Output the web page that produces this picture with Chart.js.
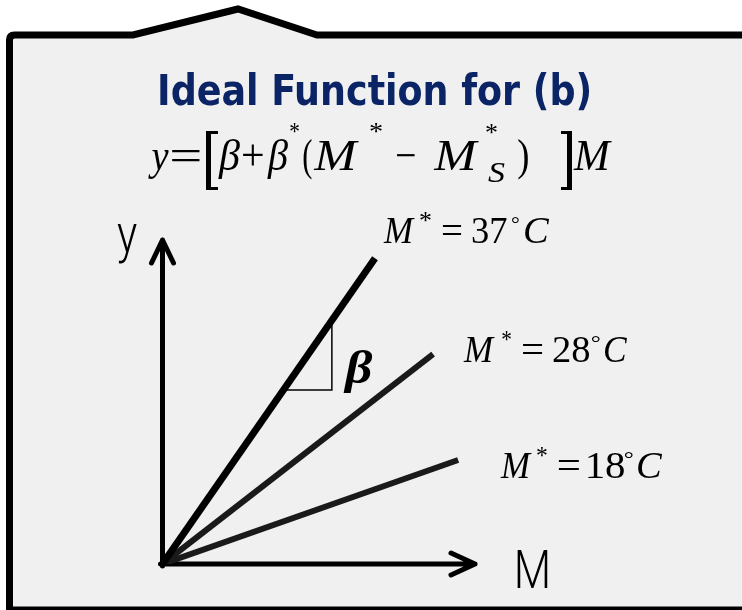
<!DOCTYPE html>
<html lang="en">
<head>
<meta charset="UTF-8">
<title>Ideal Function for (b)</title>
<script src="https://cdn.jsdelivr.net/npm/chart.js"></script>
<style>
  html, body { margin: 0; padding: 0; background: #fff; }
  canvas { display: block; }
</style>
</head>
<body>
<canvas id="chart" width="742" height="610"></canvas>
<script>
// temperature levels M* (deg C) and where each line ends, in M / y units
const tempLabels = ['37', '28', '18'];
const endM = [6.8, 8.66, 9.46];
const endY = [9.44, 6.48, 3.21];
const lineColors = ['#000000', '#1a1a1a', '#1a1a1a'];
const lineWidths = [7, 6, 6];

// little slope triangle under the steepest line
const slopeM = [3.87, 5.42, 5.42];
const slopeY = [5.37, 5.37, 7.52];

const axisMax = 10;

const SERIF = '"Liberation Serif", "Times New Roman", serif';
const NARROW = '"Liberation Sans Narrow", "Arial Narrow", "DejaVu Sans Condensed", sans-serif';
const LIGHT = 'Roboto, "Liberation Sans", sans-serif';

// draw text so its ink spans x1..x2; baseline given, or ink top if top is set
function ink(ctx, text, font, x1, x2, base, top) {
    ctx.font = font;
    const m = ctx.measureText(text);
    const w = m.actualBoundingBoxLeft + m.actualBoundingBoxRight;
    const s = (x2 - x1) / w;
    const y = top !== undefined ? top + m.actualBoundingBoxAscent : base;
    ctx.save();
    ctx.translate(x1 + m.actualBoundingBoxLeft * s, y);
    ctx.scale(s, 1);
    ctx.fillText(text, 0, 0);
    ctx.restore();
}

// frame with the notch on top
const framePlugin = {
    id: 'frame',
    beforeDraw(chart) {
        const ctx = chart.ctx;
        ctx.save();
        ctx.fillStyle = '#ffffff';
        ctx.fillRect(0, 0, chart.width, chart.height);
        ctx.beginPath();
        ctx.moveTo(9.5, 615);
        ctx.lineTo(9.5, 40);
        ctx.quadraticCurveTo(9.5, 35, 14.5, 35);
        ctx.lineTo(133, 35);
        ctx.lineTo(238, 9);
        ctx.lineTo(317, 35);
        ctx.lineTo(760, 35);
        ctx.lineTo(760, 610);
        ctx.lineTo(9.5, 610);
        ctx.closePath();
        ctx.fillStyle = '#f0f0f0';
        ctx.fill();
        ctx.lineWidth = 7;
        ctx.strokeStyle = '#000';
        ctx.stroke();
        ctx.restore();
    }
};

// arrowed axes, title, equation and labels
const annotatePlugin = {
    id: 'annotate',
    beforeDatasetsDraw(chart) {
        const ctx = chart.ctx;
        const xs = chart.scales.x, ys = chart.scales.y;
        const x0 = xs.getPixelForValue(0), y0 = ys.getPixelForValue(0);
        const xEnd = xs.getPixelForValue(axisMax), yEnd = ys.getPixelForValue(axisMax);
        ctx.save();
        ctx.strokeStyle = '#000';
        ctx.lineWidth = 5;
        ctx.lineCap = 'round';
        ctx.lineJoin = 'round';
        ctx.beginPath();
        ctx.moveTo(x0, y0 + 2);
        ctx.lineTo(x0, yEnd);
        ctx.moveTo(x0 - 11, yEnd + 23);
        ctx.lineTo(x0, yEnd);
        ctx.lineTo(x0 + 11, yEnd + 23);
        ctx.moveTo(x0 - 2, y0);
        ctx.lineTo(xEnd, y0);
        ctx.moveTo(xEnd - 24, y0 - 11);
        ctx.lineTo(xEnd, y0);
        ctx.lineTo(xEnd - 24, y0 + 11);
        ctx.stroke();
        ctx.restore();
    },
    afterDraw(chart) {
        const ctx = chart.ctx;
        ctx.save();
        ctx.textAlign = 'left';
        ctx.textBaseline = 'alphabetic';

        // title
        ctx.fillStyle = '#0b2466';
        ink(ctx, 'Ideal Function for (b)', 'bold 42px ' + NARROW, 160, 590, 105);

        // equation  y = [β + β*(M* − M*_S)]M
        ctx.fillStyle = '#000';
        const it = 'italic 44px ' + SERIF, up = '44px ' + SERIF;
        const sup = '26px ' + SERIF;
        const b = 170;
        ink(ctx, 'y', it, 148, 169, b);
        ink(ctx, '=', up, 172, 200, b);
        ink(ctx, '\u03B2', it, 218, 240, b);
        ink(ctx, '+', up, 243, 263, b);
        ink(ctx, '\u03B2', it, 267, 288, b);
        ink(ctx, '*', sup, 290, 299, 0, 123);
        ink(ctx, '(', up, 303, 312, b);
        ink(ctx, 'M', it, 313, 359, b);
        ink(ctx, '*', sup, 370, 382, 0, 123);
        ink(ctx, '\u2212', up, 397, 415, b);
        ink(ctx, 'M', it, 433, 479, b);
        ink(ctx, '*', sup, 486, 497, 0, 124);
        ink(ctx, 'S', 'italic 30px ' + SERIF, 488, 505, 182);
        ink(ctx, ')', up, 518, 528, b);
        ink(ctx, 'M', it, 573, 612, b);
        // tall brackets
        ctx.fillRect(206, 131, 5, 59);
        ctx.fillRect(206, 131, 12, 3);
        ctx.fillRect(206, 187, 12, 3);
        ctx.fillRect(567, 131, 5, 59);
        ctx.fillRect(561, 131, 11, 3);
        ctx.fillRect(561, 187, 11, 3);

        // axis names
        ink(ctx, 'y', '300 51px ' + LIGHT, 117, 137, 0, 224);
        ink(ctx, 'M', '300 53px ' + LIGHT, 517, 548, 588);

        // slope symbol
        ink(ctx, '\u03B2', 'bold italic 46px ' + SERIF, 343, 373, 0, 350);

        // M* = T deg C labels beside each line (ink x extents)
        const bases = [243, 362, 478];
        const spans = [
            [[383, 415], [420, 431], [442, 462], [472, 507], [512, 519], [525, 550]],
            [[463, 495], [502, 511], [522, 543], [553, 590], [592, 600], [605, 628]],
            [[500, 532], [537, 547], [558, 580], [588, 625], [625, 633], [638, 663]]
        ];
        tempLabels.forEach((t, i) => {
            const lb = bases[i], s = spans[i];
            ink(ctx, 'M', 'italic 37px ' + SERIF, s[0][0], s[0][1], lb);
            ink(ctx, '*', '26px ' + SERIF, s[1][0], s[1][1], 0, lb - 31);
            ink(ctx, '=', '37px ' + SERIF, s[2][0], s[2][1], lb);
            ink(ctx, t, '37px ' + SERIF, s[3][0], s[3][1], lb);
            ink(ctx, '\u00B0', '22px ' + SERIF, s[4][0], s[4][1], 0, lb - 26);
            ink(ctx, 'C', 'italic 37px ' + SERIF, s[5][0], s[5][1], lb);
        });
        ctx.restore();
    }
};

const datasets = tempLabels.map((t, i) => ({
    label: 'M* = ' + t + '\u00B0C',
    data: [{ x: 0, y: 0 }, { x: endM[i], y: endY[i] }],
    borderColor: lineColors[i],
    borderWidth: lineWidths[i],
    borderCapStyle: 'butt',
    pointRadius: 0,
    showLine: true,
    fill: false
}));

datasets.push({
    label: 'slope',
    data: slopeM.map((m, i) => ({ x: m, y: slopeY[i] })),
    borderColor: '#000',
    borderWidth: 1.5,
    pointRadius: 0,
    showLine: true,
    fill: false
});

new Chart(document.getElementById('chart'), {
    type: 'scatter',
    data: { datasets: datasets },
    options: {
        responsive: false,
        animation: false,
        devicePixelRatio: 1,
        layout: { padding: { left: 162.5, top: 240, right: 267, bottom: 46 } },
        scales: {
            x: { type: 'linear', min: 0, max: axisMax, display: false },
            y: { type: 'linear', min: 0, max: axisMax, display: false }
        },
        plugins: {
            legend: { display: false },
            tooltip: { enabled: false }
        }
    },
    plugins: [framePlugin, annotatePlugin]
});
</script>
</body>
</html>
